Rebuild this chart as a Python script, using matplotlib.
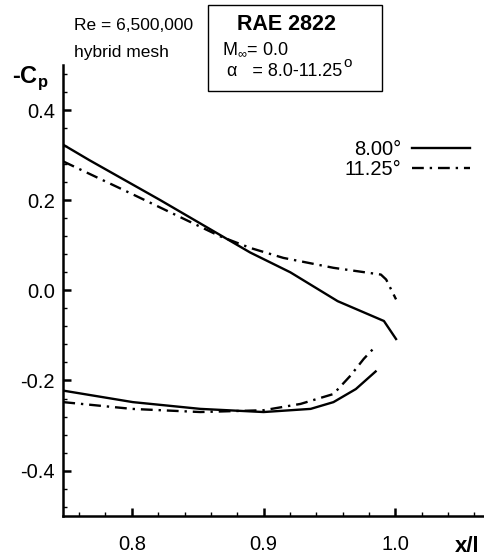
import numpy as np
import matplotlib
matplotlib.use('Agg')
import matplotlib.pyplot as plt
from matplotlib.patches import Rectangle
from matplotlib.ticker import MultipleLocator

plt.rcParams['font.family'] = ['Liberation Sans', 'DejaVu Sans']
plt.rcParams['mathtext.fontset'] = 'custom'
plt.rcParams['mathtext.rm'] = 'Liberation Sans'
plt.rcParams['mathtext.bf'] = 'Liberation Sans:bold'

# data
x_up_8 = [0.748, 0.7677, 0.8211, 0.8898, 0.9203, 0.9562, 0.9913, 1.0005]
cp_up_8 = [0.323, 0.289, 0.201, 0.084, 0.040, -0.024, -0.068, -0.108]
x_lo_8 = [0.748, 0.8008, 0.852, 0.900, 0.9357, 0.953, 0.970, 0.985]
cp_lo_8 = [-0.2225, -0.248, -0.263, -0.270, -0.263, -0.248, -0.219, -0.180]

x_up_11 = [0.748, 0.800, 0.867, 0.890, 0.915, 0.953, 0.989, 0.993, 1.0005]
cp_up_11 = [0.286, 0.214, 0.120, 0.094, 0.072, 0.050, 0.035, 0.024, -0.020]
x_lo_11 = [0.748, 0.800, 0.852, 0.900, 0.928, 0.953, 0.966, 0.976, 0.985]
cp_lo_11 = [-0.248, -0.263, -0.270, -0.266, -0.252, -0.230, -0.189, -0.152, -0.124]

labels = ['8.00\u00b0', '11.25\u00b0']

W, H = 485, 557
fig = plt.figure(figsize=(W / 100, H / 100), dpi=100)
ax = fig.add_axes([63.3 / W, 1 - 515.7 / H, 1 - 63.3 / W, (515.7 - 65) / H])

dashdot = (0, (5, 2.5, 1, 2.5))
ax.plot(x_up_8, cp_up_8, c='k', lw=1.7, label=labels[0])
ax.plot(x_lo_8, cp_lo_8, c='k', lw=1.7)
ax.plot(x_up_11, cp_up_11, c='k', lw=1.7, ls=dashdot, label=labels[1])
ax.plot(x_lo_11, cp_lo_11, c='k', lw=1.7, ls=dashdot)

ax.set_xlim(0.748, 1.068)
ax.set_ylim(-0.5, 0.5)
ax.xaxis.set_major_locator(MultipleLocator(0.1))
ax.xaxis.set_minor_locator(MultipleLocator(0.02))
ax.yaxis.set_major_locator(MultipleLocator(0.2))
ax.yaxis.set_minor_locator(MultipleLocator(0.04))
ax.xaxis.set_major_formatter(matplotlib.ticker.FormatStrFormatter('%.1f'))
ax.yaxis.set_major_formatter(matplotlib.ticker.FormatStrFormatter('%.1f'))

for s in ['top', 'right']:
    ax.spines[s].set_visible(False)
for s in ['left', 'bottom']:
    ax.spines[s].set_linewidth(1.8)
ax.tick_params(which='major', direction='in', length=5.5, width=1.8, labelsize=14.5)
ax.tick_params(which='minor', direction='in', length=3, width=1)
ax.tick_params(axis='x', which='major', pad=14)
ax.tick_params(axis='y', which='major', pad=6)

ax.legend(loc='upper right', bbox_to_anchor=(470 / W, 1 - 140 / H),
          bbox_transform=fig.transFigure, frameon=False, markerfirst=False,
          fontsize=14.5, handlelength=2.9, handletextpad=0.5,
          labelspacing=0.05, borderpad=0, borderaxespad=0)

# axis titles
fig.text(12 / W, 1 - 78 / H, r'-C$_\mathbf{p}$', fontsize=17, fontweight='bold',
         ha='left', va='center')
fig.text(467 / W, 1 - 547 / H, 'x/l', fontsize=16, fontweight='bold',
         ha='center', va='center')

# notes
fig.text(74 / W, 1 - 25 / H, 'Re = 6,500,000', fontsize=12.5, va='center')
fig.text(74 / W, 1 - 52 / H, 'hybrid mesh', fontsize=12.5, va='center')

fig.patches.append(Rectangle((208 / W, 1 - 91 / H), (382 - 208) / W, (91 - 5) / H,
                             transform=fig.transFigure, fill=False, ec='k', lw=1))
fig.text(287 / W, 1 - 25 / H, 'RAE 2822', fontsize=15.5, fontweight='bold',
         ha='center', va='center')
fig.text(222 / W, 1 - 49 / H, r'M$_{\infty}$= 0.0', fontsize=13, va='center')
fig.text(227 / W, 1 - 71 / H, '\u03b1   = 8.0-11.25', fontsize=13, va='center')
fig.text(343 / W, 1 - 63 / H, 'o', fontsize=11, va='center')

fig.savefig('out.png', dpi=100)
